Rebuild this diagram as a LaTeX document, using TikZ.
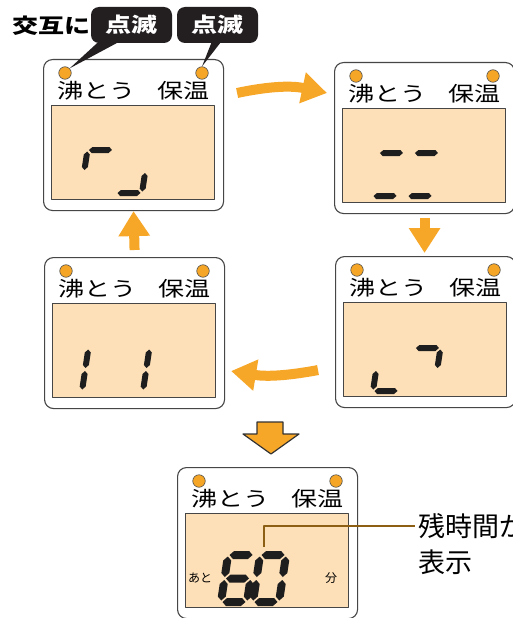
\documentclass[tikz,border=0pt]{standalone}
\usepackage{fontspec}
\usetikzlibrary{arrows.meta,calc}
\newfontfamily\jp{Noto Sans CJK JP}
\newfontfamily\jpw[FakeStretch=1.27]{Noto Sans CJK JP}
\definecolor{flowcol}{RGB}{247,167,40}
\definecolor{lampcol}{RGB}{246,166,38}
\definecolor{lcdcol}{RGB}{253,224,184}
\definecolor{framecol}{RGB}{70,70,70}
\definecolor{segcol}{RGB}{30,30,30}
\definecolor{tipcol}{RGB}{35,31,32}
\definecolor{leadcol}{RGB}{140,95,20}
% size of one lcd digit
\def\segw{3pt}
\def\digW{26}
\def\digH{43}
\newcommand{\lcdseg}[2]{\fill[segcol] (#1) -- ($(#1)!\segw!(#2)!\segw!90:(#2)$) -- ($(#2)!\segw!(#1)!\segw!-90:(#1)$) -- (#2) -- ($(#2)!\segw!(#1)!\segw!90:(#1)$) -- ($(#1)!\segw!(#2)!\segw!-90:(#2)$) -- cycle;}
\newcommand{\lcdA}[1]{\lcdseg{#1+1.5,-\digH}{#1+\digW-1.5,-\digH}}
\newcommand{\lcdB}[1]{\lcdseg{#1+\digW,-\digH+1.5}{#1+\digW,-\digH/2-1.5}}
\newcommand{\lcdC}[1]{\lcdseg{#1+\digW,-\digH/2+1.5}{#1+\digW,-1.5}}
\newcommand{\lcdD}[1]{\lcdseg{#1+1.5,0}{#1+\digW-1.5,0}}
\newcommand{\lcdE}[1]{\lcdseg{#1,-\digH/2+1.5}{#1,-1.5}}
\newcommand{\lcdF}[1]{\lcdseg{#1,-\digH+1.5}{#1,-\digH/2-1.5}}
\newcommand{\lcdG}[1]{\lcdseg{#1+1.5,-\digH/2}{#1+\digW-1.5,-\digH/2}}
\begin{document}
\begin{tikzpicture}[x=1pt, y=-1pt, line join=round,
  panel/.style={draw=framecol, line width=1.1pt, rounded corners=9pt, fill=white, minimum width=180pt, minimum height=151pt, inner sep=0pt, anchor=north west},
  lcd/.style={draw=framecol, line width=1.2pt, fill=lcdcol, minimum width=163pt, minimum height=94pt, inner sep=0pt, anchor=north west},
  lamp/.style={circle, draw=black!70, line width=0.6pt, fill=lampcol, minimum size=12.5pt, inner sep=0pt},
  mode/.style={font=\jpw\fontsize{20.5}{20.5}\selectfont, inner sep=0pt},
  blink/.style={fill=tipcol, rounded corners=8pt, minimum width=81pt, minimum height=36pt, inner sep=0pt, text=white, font=\jpw\bfseries\fontsize{20.5}{20.5}\selectfont},
  flow/.style={draw=flowcol, line width=10pt, -{Triangle[length=25pt,width=30pt]}},
  note/.style={font=\jp\fontsize{27}{27}\selectfont, inner sep=0pt, anchor=west},
  small/.style={font=\jp\fontsize{12}{12}\selectfont, inner sep=0pt}]
\fill[white] (0,0) rectangle (512,618);
\path[use as bounding box] (0,0) rectangle (512,618);

% the five displays
\foreach \px/\py/\n in {43/59/1, 334/62/2, 335/256/3, 44/257/4, 177/467/5}{
  \node[panel] (p\n) at (\px,\py) {};
  \node[lamp] (boil\n) at (\px+22,\py+14) {};
  \node[lamp] (keep\n) at (\px+159,\py+14) {};
  \node[mode, anchor=west] (boiltxt\n) at (\px+14,\py+32) {沸とう};
  \node[mode, anchor=east] (keeptxt\n) at (\px+167,\py+32) {保温};
  \node[lcd] (lcd\n) at (\px+8,\py+46) {};
}

% rotating segments
\begin{scope}[shift={(lcd1.north west)}, shift={(30,88)}, xslant=0.15]
  \lcdA{0} \lcdF{0} \lcdC{35} \lcdD{35}
\end{scope}
\begin{scope}[shift={(lcd2.north west)}, shift={(30,88)}, xslant=0.15]
  \lcdA{0} \lcdD{0} \lcdA{35} \lcdD{35}
\end{scope}
\begin{scope}[shift={(lcd3.north west)}, shift={(30,89)}, xslant=0.15]
  \lcdE{0} \lcdD{0} \lcdA{35} \lcdB{35}
\end{scope}
\begin{scope}[shift={(lcd4.north west)}, shift={(30,88)}, xslant=0.15]
  \lcdF{0} \lcdE{0} \lcdB{35} \lcdC{35}
\end{scope}

% 60 minutes left
\begin{scope}[shift={(lcd5.north west)}, shift={(36,89)}, xslant=0.15]
  \def\digW{26}\def\digH{47}\def\segw{4pt}
  \lcdA{0} \lcdF{0} \lcdG{0} \lcdE{0} \lcdD{0} \lcdC{0}
  \lcdA{32} \lcdB{32} \lcdC{32} \lcdD{32} \lcdE{32} \lcdF{32}
\end{scope}
\node[small, anchor=west] (ato) at (188,578) {あと};
\node[small] (fun) at (331,578) {分};

% callouts at the top
\node[mode, font=\jpw\bfseries\fontsize{20.5}{20.5}\selectfont, anchor=west] (alt) at (12,26) {交互に};
\fill[tipcol] ([shift={(-31,-3)}]131.5,43) -- (boil1.north east) -- ([shift={(-9,-3)}]131.5,43) -- cycle;
\fill[tipcol] ([shift={(-5,-3)}]217.5,43) -- (keep1.north) -- ([shift={(5,-3)}]217.5,43) -- cycle;
\node[blink] (blinkL) at (131.5,25) {点滅};
\node[blink] (blinkR) at (217.5,25) {点滅};

% arrows between displays
\draw[flow] ([shift={(13,34)}]p1.north east) to[bend left=12] ([shift={(-7,31)}]p2.north west);
\draw[flow] ([yshift=-4pt]p2.south) -- ([yshift=3pt]p2.south |- p3.north);
\draw[flow] ([shift={(-17,38)}]p3.west) to[bend left=10] ([shift={(6,38)}]p4.east);
\draw[flow] ([yshift=7pt]p4.north) -- (p1.south);
\filldraw[fill=flowcol, draw=black!80, line width=1.2pt] (257,422) -- (283,422) -- (283,434) -- (299,434) -- (271,454) -- (243,434) -- (257,434) -- cycle;

% remaining time
\coordinate (ptr) at (264,547);
\node[note] (remain) at (418,526) {残時間が};
\node[note] (shown) at (418,562) {表示};
\draw[leadcol, line width=2pt] (ptr) |- ([xshift=-3pt]remain.west);
\end{tikzpicture}
\end{document}
